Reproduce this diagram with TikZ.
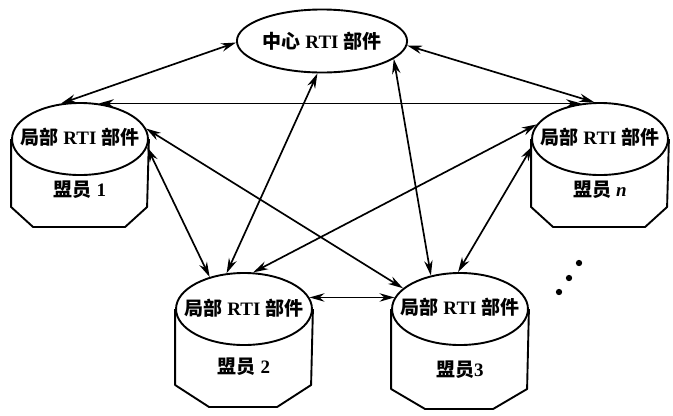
\documentclass[tikz,border=0pt]{standalone}
\usepackage{fontspec}
\setmainfont{Liberation Serif}
\newfontfamily\cjk{Noto Sans CJK SC}
\usetikzlibrary{shapes.geometric,arrows.meta}

\tikzset{
  hub/.style={ellipse, draw, line width=1.8pt, minimum width=5.67cm, minimum height=2.1cm},
  memtop/.style={ellipse, draw, line width=1.8pt, minimum width=4.53cm, minimum height=2.4cm},
  txt/.style={font=\fontsize{18}{21}\selectfont\bfseries, inner sep=0pt},
  body/.style={line width=1.8pt, line join=round},
  link/.style={{Stealth[length=5mm,width=2.8mm]}-{Stealth[length=5mm,width=2.8mm]}, line width=1.6pt}
}

\begin{document}
\begin{tikzpicture}[x=0.03333cm, y=-0.03333cm]
        \useasboundingbox (0,0) rectangle (673,415);

        % centre
        \node[hub] (c) at (322,41) {};
        \node[txt] (ct) at (c) {{\cjk 中心} RTI {\cjk 部件}};

        % members
        \node[memtop] (m1) at (80,139) {};
        \node[txt] (t1) at (80,137) {{\cjk 局部} RTI {\cjk 部件}};
        \node[txt] (l1) at (80,190) {{\cjk 盟员} 1};
        \draw[body] (m1.west) -- ++(0,68) -- ++(22,20) -- ++(92,0) -- ++(22,-20) -- (m1.east);

        \node[memtop] (mn) at (600,139) {};
        \node[txt] (tn) at (600,137) {{\cjk 局部} RTI {\cjk 部件}};
        \node[txt] (ln) at (600,190) {{\cjk 盟员} \textit{n}};
        \draw[body] (mn.west) -- ++(0,68) -- ++(22,20) -- ++(92,0) -- ++(22,-20) -- (mn.east);

        \node[memtop] (m2) at (244,309) {};
        \node[txt] (t2) at (244,308) {{\cjk 局部} RTI {\cjk 部件}};
        \node[txt] (l2) at (244,367) {{\cjk 盟员} 2};
        \draw[body] (m2.west) -- ++(0,76) -- ++(34,22) -- ++(68,0) -- ++(34,-22) -- (m2.east);

        \node[memtop] (m3) at (460,309) {};
        \node[txt] (t3) at (460,307) {{\cjk 局部} RTI {\cjk 部件}};
        \node[txt] (l3) at (460,370) {{\cjk 盟员}3};
        \draw[body] (m3.west) -- ++(0,80) -- ++(34,20) -- ++(68,0) -- ++(34,-20) -- (m3.east);

        % links
        \draw[link] (c.181) -- (m1.118);
        \draw[link] (c.357) -- (mn.99);
        \draw[link] (m1.62) -- (mn.118);
        \draw[link] (c.262) -- (m2.116);
        \draw[link] (c.346) -- (m3.131);
        \draw[link] (m1.353) -- (m2.137);
        \draw[link] (m1.9) -- (m3.160);
        \draw[link] (mn.167) -- (m2.76);
        \draw[link] (mn.186) -- (m3.93);
        \draw[link] (m2.10) -- (m3.170);

        % more members
        \fill (579,263) circle (3pt);
        \fill (569,278) circle (3pt);
        \fill (559,292) circle (3pt);
\end{tikzpicture}
\end{document}
